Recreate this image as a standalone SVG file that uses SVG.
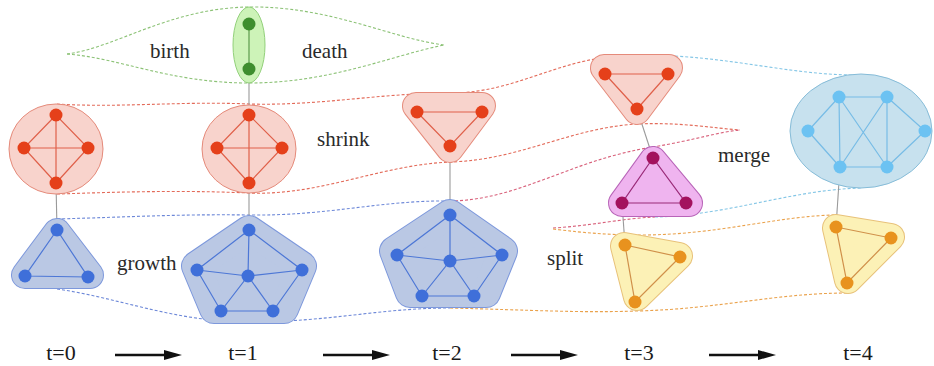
<svg xmlns="http://www.w3.org/2000/svg" width="934" height="366" viewBox="0 0 934 366">
<style>
.lbl{font-family:"Liberation Serif","Times New Roman",serif;font-size:21px;fill:#2a2a2a}
.tl{font-family:"Liberation Serif","Times New Roman",serif;font-size:22px;fill:#1a1a1a;text-anchor:middle}
.ax{stroke:#111;stroke-width:2.6;fill:none}
.traj{fill:none;stroke-width:1.1;stroke-dasharray:3 2}
.tr-red{stroke:#e36b5a}.tr-blue{stroke:#6d88d8}.tr-green{stroke:#8cc276}.tr-org{stroke:#eaa24c}.tr-lb{stroke:#84c6e6}.tr-pur{stroke:#d8607a}
.link{stroke:#9a9a9a;stroke-width:1.1}
.hull{stroke-linejoin:round}
.r-o{fill:#e58a7a;stroke:#e58a7a}.r-i{fill:#f8d3cc;stroke:#f8d3cc}
.b-o{fill:#7d98dc;stroke:#7d98dc}.b-i{fill:#bac8e4;stroke:#bac8e4}
.p-o{fill:#b864b8;stroke:#b864b8}.p-i{fill:#efb4ef;stroke:#efb4ef}
.y-o{fill:#e8c27a;stroke:#e8c27a}.y-i{fill:#fcf1b6;stroke:#fcf1b6}
.w13o{stroke-width:28}.w13i{stroke-width:26}.w14o{stroke-width:30}.w14i{stroke-width:28}
.e-red{stroke:#e0604a;stroke-width:1.2;fill:none}.n-red{fill:#e5401a}
.e-blue{stroke:#4d77d6;stroke-width:1.2;fill:none}.n-blue{fill:#3f6fd9}
.e-green{stroke:#5b9b4b;stroke-width:1.2}.n-green{fill:#3e8e2e}
.e-pur{stroke:#9a2a78;stroke-width:1.2;fill:none}.n-pur{fill:#a3125e}
.e-yel{stroke:#d0904a;stroke-width:1.2;fill:none}.n-yel{fill:#e8921e}
.e-lb{stroke:#77bce6;stroke-width:1.2;fill:none}.n-lb{fill:#6cc2f2}
</style>
<defs>
<marker id="ah" markerUnits="userSpaceOnUse" markerWidth="20" markerHeight="12" refX="6" refY="5" orient="auto">
<path d="M0,0 L18,5 L0,10 z" fill="#111"/>
</marker>
</defs>
<rect width="934" height="366" fill="#ffffff"/>

<g id="connectors">
<path class="traj tr-green" d="M67,54 C115,48 170,8 249,7 C330,6 390,38 444,45"/>
<path class="traj tr-green" d="M67,54 C120,58 170,83 249,83 C330,83 390,56 444,45"/>
<path class="traj tr-red" d="M57,104 C120,108 180,101 249,104 C320,106 380,93 450,93 C520,93 560,55 637,55"/>
<path class="traj tr-red" d="M57,194 C120,192 180,190 249,193 C320,196 380,165 450,162 C520,160 570,128 637,124 C680,122 712,128 740,130"/>
<path class="traj tr-pur" d="M450,201 C520,200 570,160 653,147 C695,140 718,132 740,130"/>
<path class="traj tr-pur" d="M553,228 C590,226 625,218 655,217"/>
<path class="traj tr-lb" d="M640,55 C730,55 790,76 861,75"/>
<path class="traj tr-lb" d="M655,217 C730,215 790,190 861,188"/>
<path class="traj tr-org" d="M553,229 C585,233 610,235 640,235 C720,235 775,216 836,215"/>
<path class="traj tr-org" d="M450,308 C530,310 580,313 637,311 C720,309 775,293 848,293"/>
<path class="traj tr-blue" d="M57,219 C130,217 180,214 249,215 C330,216 380,200 450,201"/>
<path class="traj tr-blue" d="M57,289 C120,298 175,322 249,322 C330,322 380,308 450,308"/>
<line class="link" x1="56" y1="183" x2="57" y2="230"/>
<line class="link" x1="249" y1="69" x2="249" y2="115"/>
<line class="link" x1="249" y1="183" x2="249" y2="230"/>
<line class="link" x1="450" y1="146" x2="450" y2="215"/>
<line class="link" x1="637" y1="109" x2="653" y2="158"/>
<line class="link" x1="622" y1="203" x2="625" y2="245"/>
<line class="link" x1="840" y1="167" x2="836" y2="227"/>
</g>

<g id="red-t0">
<ellipse cx="56" cy="149" rx="47" ry="45" fill="#f8d3cc" stroke="#e58a7a" stroke-width="1"/>
<path class="e-red" d="M56,115 L24,148 L56,183 L88,148 Z M56,115 L56,183 M24,148 L88,148"/>
<circle class="n-red" cx="56" cy="115" r="6.5"/><circle class="n-red" cx="24" cy="148" r="6.5"/><circle class="n-red" cx="88" cy="148" r="6.5"/><circle class="n-red" cx="56" cy="183" r="6.5"/>
</g>

<g id="blue-t0">
<polygon class="hull b-o w13o" points="57,232 25,275 90,275"/>
<polygon class="hull b-i w13i" points="57,232 25,275 90,275"/>
<path class="e-blue" d="M57,230 L25,276 L88,277 Z"/>
<circle class="n-blue" cx="57" cy="230" r="6.5"/><circle class="n-blue" cx="25" cy="276" r="6.5"/><circle class="n-blue" cx="88" cy="277" r="6.5"/>
</g>

<g id="green-t1">
<ellipse cx="249" cy="45" rx="16" ry="38" fill="#cdf3b8" stroke="#92d07a" stroke-width="1"/>
<line class="e-green" x1="249" y1="24" x2="249" y2="69"/>
<circle class="n-green" cx="249" cy="24" r="6.5"/><circle class="n-green" cx="249" cy="69" r="6.5"/>
</g>

<g id="red-t1">
<ellipse cx="249" cy="149" rx="47" ry="44" fill="#f8d3cc" stroke="#e58a7a" stroke-width="1"/>
<path class="e-red" d="M249,115 L217,148 L249,183 L282,148 Z M249,115 L249,183 M217,148 L282,148"/>
<circle class="n-red" cx="249" cy="115" r="6.5"/><circle class="n-red" cx="217" cy="148" r="6.5"/><circle class="n-red" cx="282" cy="148" r="6.5"/><circle class="n-red" cx="249" cy="183" r="6.5"/>
</g>

<g id="blue-t1">
<polygon class="hull b-o w14o" points="249,230 302,266 284,309 214,309 196,266"/>
<polygon class="hull b-i w14i" points="249,230 302,266 284,309 214,309 196,266"/>
<path class="e-blue" d="M249,230 L197,270 L221,311 L273,311 L302,270 Z M249,230 L248,276 M197,270 L248,276 L302,270 M221,311 L248,276 L273,311"/>
<circle class="n-blue" cx="249" cy="230" r="6.5"/><circle class="n-blue" cx="197" cy="270" r="6.5"/><circle class="n-blue" cx="248" cy="276" r="6.5"/><circle class="n-blue" cx="302" cy="270" r="6.5"/><circle class="n-blue" cx="221" cy="311" r="6.5"/><circle class="n-blue" cx="273" cy="311" r="6.5"/>
</g>

<g id="red-t2">
<polygon class="hull r-o w13o" points="416,106 482,106 450,149"/>
<polygon class="hull r-i w13i" points="416,106 482,106 450,149"/>
<path class="e-red" d="M417,112 L482,112 L450,146 Z"/>
<circle class="n-red" cx="417" cy="112" r="6.5"/><circle class="n-red" cx="482" cy="112" r="6.5"/><circle class="n-red" cx="450" cy="146" r="6.5"/>
</g>

<g id="blue-t2">
<polygon class="hull b-o w14o" points="450,214 503,251 486,293 410,293 394,251"/>
<polygon class="hull b-i w14i" points="450,214 503,251 486,293 410,293 394,251"/>
<path class="e-blue" d="M450,215 L397,255 L422,296 L474,296 L502,255 Z M450,215 L450,261 M397,255 L450,261 L502,255 M422,296 L450,261 L474,296"/>
<circle class="n-blue" cx="450" cy="215" r="6.5"/><circle class="n-blue" cx="397" cy="255" r="6.5"/><circle class="n-blue" cx="450" cy="261" r="6.5"/><circle class="n-blue" cx="502" cy="255" r="6.5"/><circle class="n-blue" cx="422" cy="296" r="6.5"/><circle class="n-blue" cx="474" cy="296" r="6.5"/>
</g>

<g id="red-t3">
<polygon class="hull r-o w13o" points="604,68 669,68 637,111"/>
<polygon class="hull r-i w13i" points="604,68 669,68 637,111"/>
<path class="e-red" d="M605,74 L668,74 L637,109 Z"/>
<circle class="n-red" cx="605" cy="74" r="6.5"/><circle class="n-red" cx="668" cy="74" r="6.5"/><circle class="n-red" cx="637" cy="109" r="6.5"/>
</g>

<g id="purple-t3">
<polygon class="hull p-o w13o" points="653,160 622,203 689,203"/>
<polygon class="hull p-i w13i" points="653,160 622,203 689,203"/>
<path class="e-pur" d="M653,158 L622,203 L686,203 Z"/>
<circle class="n-pur" cx="653" cy="158" r="6.5"/><circle class="n-pur" cx="622" cy="203" r="6.5"/><circle class="n-pur" cx="686" cy="203" r="6.5"/>
</g>

<g id="yellow-t3">
<polygon class="hull y-o w13o" points="624,246 679,256 637,297"/>
<polygon class="hull y-i w13i" points="624,246 679,256 637,297"/>
<path class="e-yel" d="M625,245 L680,257 L635,302 Z"/>
<circle class="n-yel" cx="625" cy="245" r="6.5"/><circle class="n-yel" cx="680" cy="257" r="6.5"/><circle class="n-yel" cx="635" cy="302" r="6.5"/>
</g>

<g id="lightblue-t4">
<ellipse cx="861" cy="131" rx="71" ry="57" fill="#c7e1ee" stroke="#86bcd8" stroke-width="1"/>
<path class="e-lb" d="M839,97 L887,97 M808,131 L839,97 M808,131 L840,167 M839,97 L840,167 M839,97 L887,167 M887,97 L840,167 M887,97 L887,167 M887,97 L925,131 L887,167 M840,167 L887,167"/>
<circle class="n-lb" cx="839" cy="97" r="6.5"/><circle class="n-lb" cx="887" cy="97" r="6.5"/><circle class="n-lb" cx="808" cy="131" r="6.5"/><circle class="n-lb" cx="925" cy="131" r="6.5"/><circle class="n-lb" cx="840" cy="167" r="6.5"/><circle class="n-lb" cx="887" cy="167" r="6.5"/>
</g>

<g id="yellow-t4">
<polygon class="hull y-o w13o" points="836,228 891,237 848,280"/>
<polygon class="hull y-i w13i" points="836,228 891,237 848,280"/>
<path class="e-yel" d="M836,227 L891,238 L847,283 Z"/>
<circle class="n-yel" cx="836" cy="227" r="6.5"/><circle class="n-yel" cx="891" cy="238" r="6.5"/><circle class="n-yel" cx="847" cy="283" r="6.5"/>
</g>

<g id="labels">
<text class="lbl" x="150" y="58">birth</text>
<text class="lbl" x="302" y="58">death</text>
<text class="lbl" x="317" y="146">shrink</text>
<text class="lbl" x="117" y="270">growth</text>
<text class="lbl" x="547" y="265">split</text>
<text class="lbl" x="718" y="162">merge</text>
</g>

<g id="timeline">
<text class="tl" x="61" y="360">t=0</text>
<text class="tl" x="243" y="360">t=1</text>
<text class="tl" x="447" y="360">t=2</text>
<text class="tl" x="639" y="360">t=3</text>
<text class="tl" x="858" y="360">t=4</text>
<line class="ax" x1="115" y1="355" x2="170" y2="355" marker-end="url(#ah)"/>
<line class="ax" x1="323" y1="355" x2="378" y2="355" marker-end="url(#ah)"/>
<line class="ax" x1="511" y1="355" x2="566" y2="355" marker-end="url(#ah)"/>
<line class="ax" x1="709" y1="355" x2="764" y2="355" marker-end="url(#ah)"/>
</g>
</svg>
